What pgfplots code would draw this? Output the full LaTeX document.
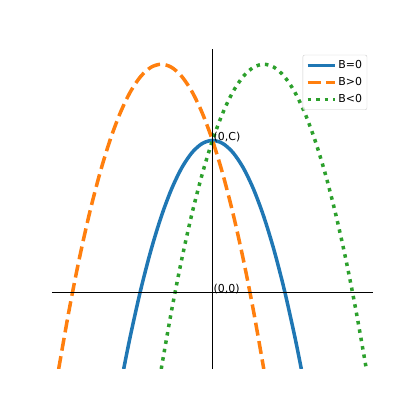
\documentclass[border=0pt]{standalone}
\usepackage{fontspec}
\setmainfont{DejaVu Sans}
\usepackage{pgfplots}
\pgfplotsset{compat=1.18}

\definecolor{tabblue}{HTML}{1F77B4}
\definecolor{taborange}{HTML}{FF7F0E}
\definecolor{tabgreen}{HTML}{2CA02C}

\begin{document}
\begin{tikzpicture}
\begin{axis}[
    scale only axis,
    width=321bp, height=320bp,
    xmin=-3.13, xmax=3.13,
    ymin=-1, ymax=3.2,
    axis lines=middle,
    axis line style={-, black, line width=0.8bp},
    xtick=\empty, ytick=\empty,
    axis on top,
    font=\fontsize{11}{13}\selectfont,
    legend cell align=left,
    legend image code/.code={\draw[#1] (0bp,0bp) -- (27bp,0bp);},
    legend style={
        at={(rel axis cs:0.982,0.982)}, anchor=north east,
        draw=black!20, rounded corners=2bp, fill=white, fill opacity=0.8,
        text opacity=1, inner xsep=3bp, inner ysep=3.5bp,
        row sep=3.5bp,
        font=\fontsize{11}{13}\selectfont,
    },
]
\addplot[tabblue, line width=3.5bp, smooth] coordinates {
    (-1.732,-1) (-1.6,-0.56) (-1.4,0.04) (-1.2,0.56) (-1,1) (-0.8,1.36)
    (-0.6,1.64) (-0.4,1.84) (-0.2,1.96) (0,2) (0.2,1.96) (0.4,1.84)
    (0.6,1.64) (0.8,1.36) (1,1) (1.2,0.56) (1.4,0.04) (1.6,-0.56) (1.732,-1)
};
\addlegendentry{B=0}
\addplot[taborange, line width=3.5bp, smooth, dash pattern=on 13bp off 5.6bp] coordinates {
    (-3,-1) (-2.8,-0.24) (-2.6,0.44) (-2.4,1.04) (-2.2,1.56) (-2,2)
    (-1.8,2.36) (-1.6,2.64) (-1.4,2.84) (-1.2,2.96) (-1,3) (-0.8,2.96)
    (-0.6,2.84) (-0.4,2.64) (-0.2,2.36) (0,2) (0.2,1.56) (0.4,1.04)
    (0.6,0.44) (0.8,-0.24) (1,-1)
};
\addlegendentry{B>0}
\addplot[tabgreen, line width=3.5bp, smooth, dash pattern=on 3.5bp off 5bp] coordinates {
    (-1,-1) (-0.8,-0.24) (-0.6,0.44) (-0.4,1.04) (-0.2,1.56) (0,2)
    (0.2,2.36) (0.4,2.64) (0.6,2.84) (0.8,2.96) (1,3) (1.2,2.96)
    (1.4,2.84) (1.6,2.64) (1.8,2.36) (2,2) (2.2,1.56) (2.4,1.04)
    (2.6,0.44) (2.8,-0.24) (3,-1)
};
\addlegendentry{B<0}
\node[anchor=base west, inner sep=0pt, xshift=1bp] at (axis cs:0,2) {(0,C)};
\node[anchor=base west, inner sep=0pt, xshift=1bp] at (axis cs:0,0) {(0,0)};
\coordinate (sw) at (rel axis cs:0,0);
\coordinate (ne) at (rel axis cs:1,1);
\end{axis}
\pgfresetboundingbox
\path[use as bounding box] ([xshift=-52bp,yshift=-46bp]sw) rectangle ([xshift=42bp,yshift=49bp]ne);
\end{tikzpicture}
\end{document}
